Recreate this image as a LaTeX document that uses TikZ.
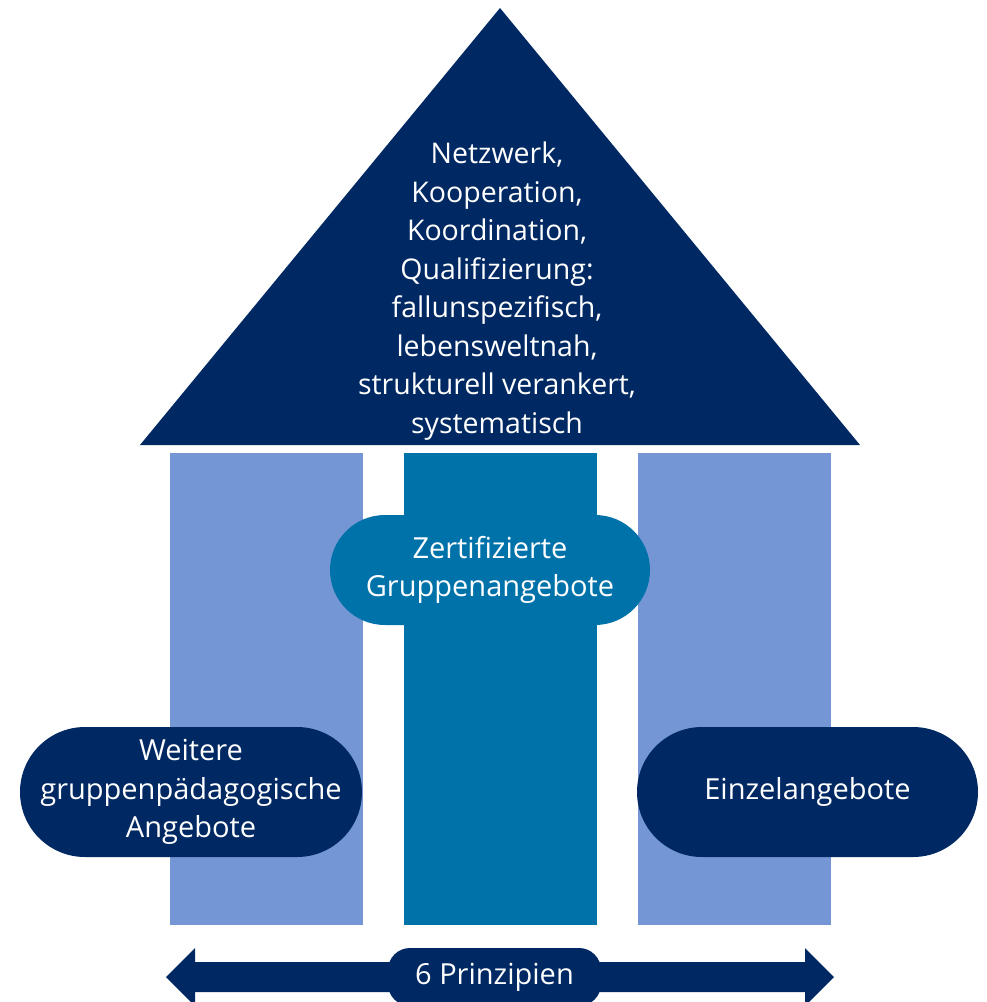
\documentclass[tikz,border=0pt]{standalone}
\usepackage{fontspec}
\setmainfont{Open Sans}
\definecolor{dunkelblau}{RGB}{0,41,99}
\definecolor{hellblau}{RGB}{116,150,212}
\definecolor{mittelblau}{RGB}{0,114,170}
\tikzset{
  saeule/.style={inner sep=0pt, minimum width=193pt, minimum height=472pt},
  pille/.style={fill=dunkelblau, text=white, align=center, inner sep=0pt,
    font=\fontsize{29}{38.5}\selectfont},
}

\begin{document}
\begin{tikzpicture}[x=1pt,y=-1pt]
\useasboundingbox (0,0) rectangle (987,1002);

\coordinate (giebel) at (500,8);
\coordinate (traufe links) at (140,445);
\coordinate (traufe rechts) at (860,445);
\fill[dunkelblau] (traufe links) -- (giebel) -- (traufe rechts) -- cycle;
\node[text=white, align=center, font=\fontsize{28.5}{38.5}\selectfont] (dach) at (497,291)
  {Netzwerk,\\Kooperation,\\Koordination,\\Qualifizierung:\\fallunspezifisch,\\lebensweltnah,\\strukturell verankert,\\systematisch};

\node[saeule, fill=hellblau] (links) at (266.5,689) {};
\node[saeule, fill=mittelblau] (mitte) at (500,689) {};
\node[saeule, fill=hellblau] (rechts) at (734,689) {};

\node[pille, fill=mittelblau, minimum width=320pt, minimum height=110pt, rounded corners=55pt] (zert) at (490,570)
  {Zertifizierte\\Gruppenangebote};
\node[pille, minimum width=342pt, minimum height=130pt, rounded corners=65pt] (weitere) at (191,792)
  {Weitere\\gruppenpädagogische\\Angebote};
\node[pille, minimum width=341pt, minimum height=130pt, rounded corners=65pt] (einzel) at (807.5,792)
  {Einzelangebote};

\coordinate (spitze links) at (166,977);
\coordinate (spitze rechts) at (834,977);
\fill[dunkelblau] (spitze links) -- (195,948) -- (195,962) -- (805,962) -- (805,948)
  -- (spitze rechts) -- (805,1006) -- (805,992) -- (195,992) -- (195,1006) -- cycle;
\node[pille, minimum width=213pt, minimum height=58pt, rounded corners=22pt] (prinzipien) at (494.5,977)
  {6 Prinzipien};
\end{tikzpicture}
\end{document}
